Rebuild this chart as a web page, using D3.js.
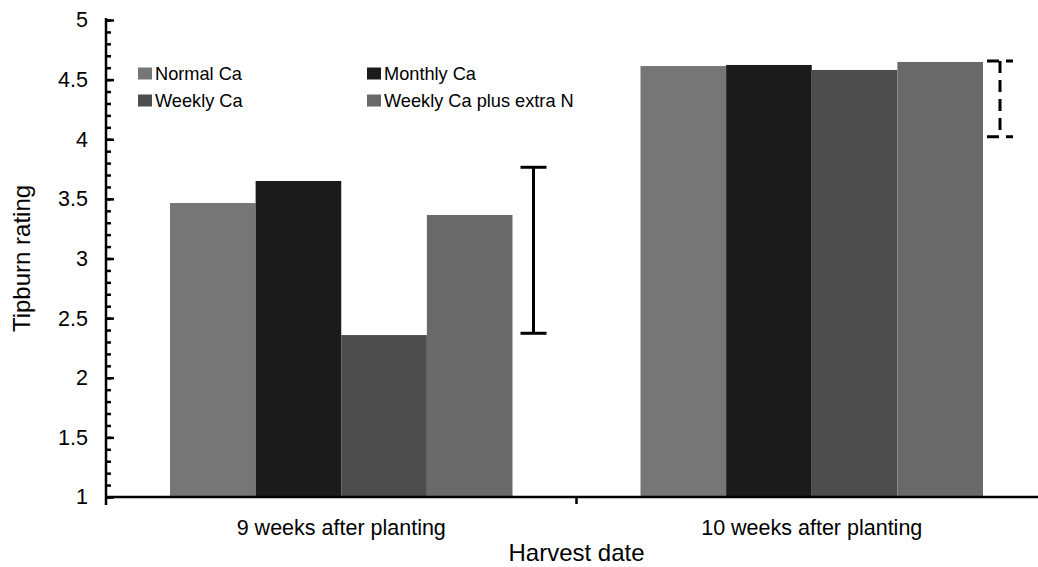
<!DOCTYPE html>
<html>
<head>
<meta charset="utf-8">
<script src="https://cdn.jsdelivr.net/npm/d3@7"></script>
<style>
  html, body { margin: 0; padding: 0; background: #fff; }
  svg { display: block; font-family: Arial, "Liberation Sans", sans-serif; }
</style>
</head>
<body>
<svg id="chart" width="1038" height="567"></svg>
<script>
// Harvest dates (groups) and calcium treatments (series)
const categories = ["9 weeks after planting", "10 weeks after planting"];
const series = ["Normal Ca", "Monthly Ca", "Weekly Ca", "Weekly Ca plus extra N"];
const normalCa = [3.465, 4.614];
const monthlyCa = [3.65, 4.623];
const weeklyCa = [2.358, 4.581];
const weeklyCaExtraN = [3.365, 4.648];
// LSD bar extents per harvest date (low, high)
const lsdLow = [2.373, 4.02];
const lsdHigh = [3.765, 4.656];
const yTickValues = [1, 1.5, 2, 2.5, 3, 3.5, 4, 4.5, 5];
const yTickLabels = ["1", "1.5", "2", "2.5", "3", "3.5", "4", "4.5", "5"];

const colors = ["#767676", "#1b1b1b", "#4d4d4d", "#696969"];
const values = [normalCa, monthlyCa, weeklyCa, weeklyCaExtraN];

const svg = d3.select("#chart");
const plotLeft = 106, plotRight = 1047, plotTop = 20, plotBottom = 497;

const y = d3.scaleLinear().domain([1, 5]).range([plotBottom, plotTop]);
const x0 = d3.scaleBand().domain(categories).range([plotLeft, plotRight]).padding(0);
const groupPad = 64;
const x1 = d3.scaleBand().domain(series).range([groupPad, x0.bandwidth() - groupPad]).padding(0);

// Bars
categories.forEach((cat, ci) => {
  series.forEach((s, si) => {
    const v = values[si][ci];
    svg.append("rect")
      .attr("x", x0(cat) + x1(s))
      .attr("y", y(v))
      .attr("width", x1.bandwidth())
      .attr("height", y(1) - y(v))
      .attr("fill", colors[si]);
  });
});

// LSD bars: solid for the first date, dashed for the second
const errOffset = [21, 17];
const capHalf = 13;
categories.forEach((cat, ci) => {
  const ex = x0(cat) + x1.range()[1] + errOffset[ci];
  const g = svg.append("g")
    .attr("stroke", "#000")
    .attr("stroke-width", 3)
    .attr("fill", "none");
  if (ci === 1) g.attr("stroke-dasharray", "12,7");
  g.append("line").attr("x1", ex).attr("x2", ex).attr("y1", y(lsdHigh[ci])).attr("y2", y(lsdLow[ci]));
  g.append("line").attr("x1", ex - capHalf).attr("x2", ex + capHalf).attr("y1", y(lsdHigh[ci])).attr("y2", y(lsdHigh[ci]));
  g.append("line").attr("x1", ex - capHalf).attr("x2", ex + capHalf).attr("y1", y(lsdLow[ci])).attr("y2", y(lsdLow[ci]));
});

// Y axis: minor ticks every 0.1, major ticks with labels every 0.5
const minorTicks = d3.range(10, 51).map(d => d / 10);
svg.append("g")
  .attr("transform", `translate(${plotLeft},0)`)
  .call(d3.axisLeft(y).tickValues(minorTicks).tickSize(-5).tickFormat(""))
  .call(g => g.select(".domain").remove())
  .call(g => g.selectAll("line").attr("stroke", "#000").attr("stroke-width", 2.5));

const yAxis = svg.append("g")
  .attr("transform", `translate(${plotLeft},0)`)
  .call(d3.axisLeft(y).tickValues(yTickValues).tickSize(-8).tickPadding(18)
    .tickFormat((d, i) => yTickLabels[i]));
yAxis.select(".domain").remove();
yAxis.selectAll("line").attr("stroke", "#000").attr("stroke-width", 2.5);
yAxis.selectAll("text").attr("font-size", 21.5).attr("fill", "#000")
  .attr("font-family", "Arial, 'Liberation Sans', sans-serif");

svg.append("line")
  .attr("x1", plotLeft).attr("x2", plotLeft)
  .attr("y1", plotTop - 2).attr("y2", plotBottom + 8)
  .attr("stroke", "#000").attr("stroke-width", 2.5);

// X axis
svg.append("line")
  .attr("x1", plotLeft - 1).attr("x2", 1038)
  .attr("y1", plotBottom).attr("y2", plotBottom)
  .attr("stroke", "#000").attr("stroke-width", 2.5);

svg.append("line")
  .attr("x1", x0(categories[1])).attr("x2", x0(categories[1]))
  .attr("y1", plotBottom).attr("y2", plotBottom + 7)
  .attr("stroke", "#000").attr("stroke-width", 2.5);

const xAxis = svg.append("g")
  .attr("transform", `translate(0,${plotBottom})`)
  .call(d3.axisBottom(x0).tickSize(0).tickPadding(23));
xAxis.select(".domain").remove();
xAxis.selectAll("text").attr("font-size", 21.5).attr("fill", "#000")
  .attr("font-family", "Arial, 'Liberation Sans', sans-serif");

// Axis titles
svg.append("text")
  .attr("transform", `translate(30,${(plotTop + plotBottom) / 2}) rotate(-90)`)
  .attr("text-anchor", "middle")
  .attr("font-size", 24)
  .text("Tipburn rating");

svg.append("text")
  .attr("x", x0(categories[1]))
  .attr("y", 561)
  .attr("text-anchor", "middle")
  .attr("font-size", 24)
  .text("Harvest date");

// Legend, two columns
const legendCols = [138, 367];
const legendRows = [79.5, 106.5];
series.forEach((s, i) => {
  const lx = legendCols[i % 2];
  const ly = legendRows[Math.floor(i / 2)];
  svg.append("rect")
    .attr("x", lx).attr("y", ly - 12)
    .attr("width", 14).attr("height", 12)
    .attr("fill", colors[i]);
  svg.append("text")
    .attr("x", lx + 17).attr("y", ly)
    .attr("font-size", 18.2)
    .text(s);
});
</script>
</body>
</html>
